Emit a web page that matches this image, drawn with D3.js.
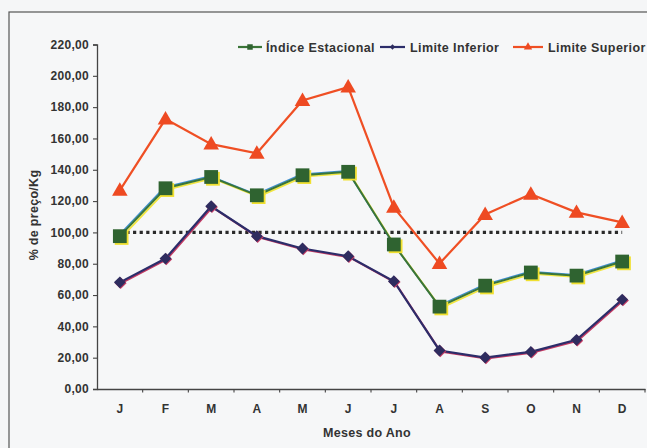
<!DOCTYPE html>
<html>
<head>
<meta charset="utf-8">
<script src="https://cdn.jsdelivr.net/npm/d3@7/dist/d3.min.js"></script>
<style>
  html, body { margin: 0; padding: 0; background: #f5f6f7; }
  svg { display: block; }
  text { font-family: "Liberation Sans", Arial, sans-serif; font-weight: bold; fill: #333; }
</style>
</head>
<body>
<svg id="chart" width="647" height="448"></svg>
<script>
// Meses do ano
const months = ["J", "F", "M", "A", "M", "J", "J", "A", "S", "O", "N", "D"];
// Índice estacional de preços (%)
const indice = [97.6, 128.2, 135.4, 123.7, 136.5, 138.7, 92.3, 52.6, 66.0, 74.4, 72.4, 81.4];
// Limite inferior do índice
const inferior = [68.1, 83.3, 116.7, 97.6, 89.7, 84.8, 68.8, 24.6, 20.1, 23.7, 31.4, 57.1];
// Limite superior do índice
const superior = [126.9, 172.4, 156.4, 150.6, 184.2, 192.8, 116.0, 80.1, 111.5, 124.4, 112.8, 106.4];
// Linha de referência (100%)
const referencia = [100, 100, 100, 100, 100, 100, 100, 100, 100, 100, 100, 100];
const yTicks = [0, 20, 40, 60, 80, 100, 120, 140, 160, 180, 200, 220];

const svg = d3.select("#chart");
const plotLeft = 97, plotRight = 645, plotTop = 44.5, plotBottom = 389;
const font = "'Liberation Sans', Arial, sans-serif";

// moldura do gráfico
svg.append("rect")
  .attr("x", 9).attr("y", 12).attr("width", 700).attr("height", 500)
  .attr("fill", "#f6f7f8").attr("stroke", "#555").attr("stroke-width", 1.2);

const idx = months.map((m, i) => i);
const x = d3.scaleBand().domain(idx).range([plotLeft, plotRight]).padding(0);
const y = d3.scaleLinear().domain([0, 220]).range([plotBottom, plotTop]);
const cx = i => x(i) + x.bandwidth() / 2;

// eixo Y
const yAxis = d3.axisLeft(y).tickValues(yTicks).tickSize(4).tickPadding(4)
  .tickFormat(d => d3.format(".2f")(d).replace(".", ","));
const gy = svg.append("g").attr("transform", `translate(${plotLeft},0)`).call(yAxis);
gy.select(".domain").attr("stroke", "#444").attr("stroke-width", 1.3);
gy.selectAll(".tick line").attr("stroke", "#444").attr("stroke-width", 1.1);
gy.selectAll(".tick text").style("font-size", "12px").attr("fill", "#333")
  .style("letter-spacing", "0.3px")
  .style("font-family", font).style("font-weight", "bold");

// eixo X
const xAxis = d3.axisBottom(x).tickSize(0).tickPadding(15).tickFormat(i => months[i]);
const gx = svg.append("g").attr("transform", `translate(0,${plotBottom})`).call(xAxis);
gx.select(".domain").attr("stroke", "#444").attr("stroke-width", 1.3);
gx.selectAll(".tick text").style("font-size", "12px").attr("fill", "#333")
  .style("font-family", font).style("font-weight", "bold");
// marcas entre os meses
const bounds = idx.map(i => x(i)).concat([x(11) + x.bandwidth()]);
svg.append("g").selectAll("line").data(bounds.slice(1)).join("line")
  .attr("x1", d => d).attr("x2", d => d).attr("y1", plotBottom).attr("y2", plotBottom + 3.5)
  .attr("stroke", "#444").attr("stroke-width", 1.1);

// títulos dos eixos
svg.append("text").attr("transform", "translate(38,215) rotate(-90)")
  .attr("text-anchor", "middle").style("font-size", "12.5px").style("letter-spacing", "0.3px")
  .text("% de preço/Kg");
svg.append("text").attr("x", 367).attr("y", 437)
  .attr("text-anchor", "middle").style("font-size", "12.5px").style("letter-spacing", "0.3px")
  .text("Meses do Ano");

const line = d3.line().x((d, i) => cx(i)).y(d => y(d));

// linha de referência pontilhada
svg.append("path").datum(referencia).attr("d", line)
  .attr("fill", "none").attr("stroke", "#2a2a2a").attr("stroke-width", 3.2)
  .attr("stroke-dasharray", "3.2,3.4");

const sq = d3.symbol().type(d3.symbolSquare).size(190)();
const dia = d3.symbol().type(d3.symbolSquare).size(70)();
const tri = d3.symbol().type(d3.symbolTriangle).size(105)();

// Limite Superior
svg.append("path").datum(superior).attr("d", line)
  .attr("fill", "none").attr("stroke", "#ef4f24").attr("stroke-width", 2.2);
svg.append("g").selectAll("path").data(superior).join("path")
  .attr("d", tri).attr("transform", (d, i) => `translate(${cx(i)},${y(d) + 1})`)
  .attr("fill", "#ee4a22");

// Limite Inferior
svg.append("path").datum(inferior).attr("d", line)
  .attr("transform", "translate(1,1)")
  .attr("fill", "none").attr("stroke", "#c43a63").attr("stroke-width", 2);
svg.append("path").datum(inferior).attr("d", line)
  .attr("fill", "none").attr("stroke", "#2c2d6a").attr("stroke-width", 2.2);
svg.append("g").selectAll("path").data(inferior).join("path")
  .attr("d", dia).attr("transform", (d, i) => `translate(${cx(i) + 0.8},${y(d) + 0.8}) rotate(45)`)
  .attr("fill", "#c43a63");
svg.append("g").selectAll("path").data(inferior).join("path")
  .attr("d", dia).attr("transform", (d, i) => `translate(${cx(i)},${y(d)}) rotate(45)`)
  .attr("fill", "#2e2c5f");

// Índice Estacional
svg.append("path").datum(indice).attr("d", line)
  .attr("transform", "translate(-1,-1)")
  .attr("fill", "none").attr("stroke", "#3f8fd0").attr("stroke-width", 1.4);
svg.append("path").datum(indice).attr("d", line)
  .attr("transform", "translate(1.4,1.4)")
  .attr("fill", "none").attr("stroke", "#f2e640").attr("stroke-width", 1.8);
svg.append("path").datum(indice).attr("d", line)
  .attr("fill", "none").attr("stroke", "#3a7538").attr("stroke-width", 2);
svg.append("g").selectAll("path").data(indice).join("path")
  .attr("d", sq).attr("transform", (d, i) => `translate(${cx(i) + 1.8},${y(d) + 1.8})`)
  .attr("fill", "#f0e030");
svg.append("g").selectAll("path").data(indice).join("path")
  .attr("d", sq).attr("transform", (d, i) => `translate(${cx(i)},${y(d)})`)
  .attr("fill", "#2f6330");

// legenda
const legend = [
  { name: "Índice Estacional", color: "#3a7538", mark: "#2f6330", sym: d3.symbol().type(d3.symbolSquare).size(30)(), rot: 0, x0: 238, x1: 262, tx: 266 },
  { name: "Limite Inferior", color: "#2c2d6a", mark: "#2e2c5f", sym: d3.symbol().type(d3.symbolSquare).size(14)(), rot: 45, x0: 380, x1: 405, tx: 410 },
  { name: "Limite Superior", color: "#ef4f24", mark: "#ee4a22", sym: d3.symbol().type(d3.symbolTriangle).size(30)(), rot: 0, x0: 513, x1: 543, tx: 548 }
];
const ly = 47;
const lg = svg.append("g").selectAll("g").data(legend).join("g");
lg.append("line").attr("x1", d => d.x0).attr("x2", d => d.x1).attr("y1", ly).attr("y2", ly)
  .attr("stroke", d => d.color).attr("stroke-width", 2.2);
lg.append("path").attr("d", d => d.sym)
  .attr("transform", d => `translate(${(d.x0 + d.x1) / 2},${ly}) rotate(${d.rot})`)
  .attr("fill", d => d.mark);
lg.append("text").attr("x", d => d.tx).attr("y", ly + 4.5)
  .style("font-size", "12.5px").style("letter-spacing", "0.4px").text(d => d.name);
</script>
</body>
</html>
